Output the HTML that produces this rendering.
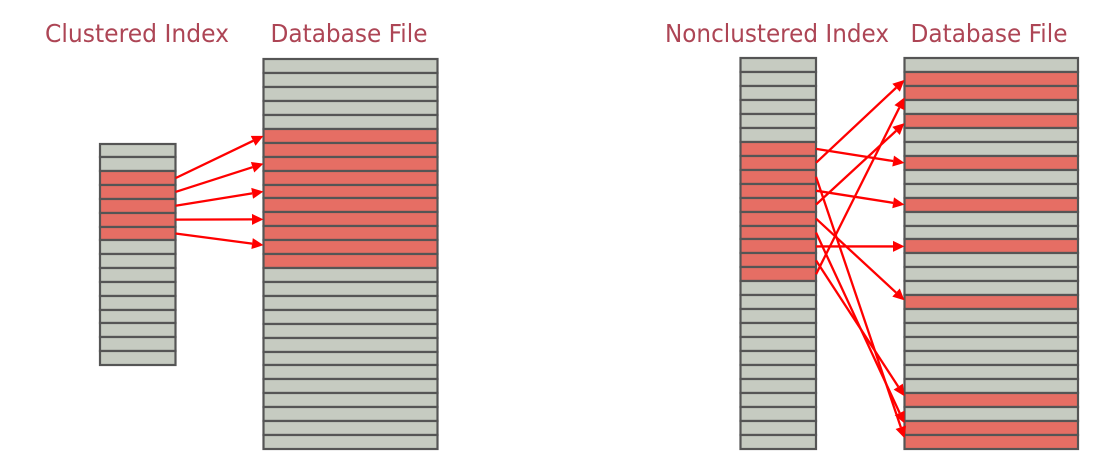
<!DOCTYPE html>
<html lang="en">
<head>
<meta charset="utf-8">
<title>Clustered vs Nonclustered Index</title>
<style>
html,body{margin:0;padding:0;background:#fff;width:1112px;height:475px;overflow:hidden}
svg{display:block}
text{font-family:"DejaVu Sans","Liberation Sans",sans-serif;font-size:25px;fill:#ad4555}
</style>
</head>
<body>
<svg id="diagram" width="1112" height="475" viewBox="0 0 1112 475" xmlns="http://www.w3.org/2000/svg">
<text x="45" y="42" textLength="184" lengthAdjust="spacingAndGlyphs">Clustered Index</text>
<text x="270.5" y="42" textLength="157" lengthAdjust="spacingAndGlyphs">Database File</text>
<text x="665" y="42" textLength="224" lengthAdjust="spacingAndGlyphs">Nonclustered Index</text>
<text x="910.5" y="42" textLength="157" lengthAdjust="spacingAndGlyphs">Database File</text>
<g id="tables"></g>
<g id="arrows"></g>
</svg>
<script>
// Row counts and highlighted rows for each table
const clusteredRowCount = 16;
const clusteredHighlighted = [2, 3, 4, 5, 6];
const fileARowCount = 28;
const fileAHighlighted = [5, 6, 7, 8, 9, 10, 11, 12, 13, 14];
const nonclusteredRowCount = 28;
const nonclusteredHighlighted = [6, 7, 8, 9, 10, 11, 12, 13, 14, 15];
const fileBRowCount = 28;
const fileBHighlighted = [1, 2, 4, 7, 10, 13, 17, 24, 26, 27];

// Pointer links: source row centre -> target position in fractional rows
const clusteredSources = [2, 3, 4, 5, 6];
const clusteredTargets = [5.5, 7.5, 9.5, 11.5, 13.35];
const nonclusteredSources = [6, 7, 8, 9, 10, 11, 12, 13, 14, 15];
const nonclusteredTargets = [7.5, 1.55, 27.26, 10.5, 4.65, 17.37, 26.2, 13.5, 24.25, 2.8];

const NS = 'http://www.w3.org/2000/svg';
const GREY = '#c6cbc1';
const RED = '#e66e64';
const LINE = '#555555';

function makeAxis(top, bottom, count) {
  const h = (bottom - top) / count;
  return function (pos) { return top + pos * h; };
}

const clusteredY = makeAxis(143.5, 365, clusteredRowCount);
const fileAY = makeAxis(59.3, 449, fileARowCount);
const nonclusteredY = makeAxis(58.3, 448.5, nonclusteredRowCount);
const fileBY = makeAxis(58.3, 448.5, fileBRowCount);

function drawTable(name, left, right, count, highlighted, yAxis) {
  const parent = document.getElementById('tables');
  const g = document.createElementNS(NS, 'g');
  
  
  parent.appendChild(g);
  for (let i = 0; i < count; i++) {
    const y0 = Math.round(yAxis(i));
    const y1 = Math.round(yAxis(i + 1));
    const r = document.createElementNS(NS, 'rect');
    r.setAttribute('x', left);
    r.setAttribute('y', y0);
    r.setAttribute('width', right - left);
    r.setAttribute('height', y1 - y0);
    r.setAttribute('fill', highlighted.includes(i) ? RED : GREY);
    r.setAttribute('stroke', LINE);
    r.setAttribute('stroke-width', '2.2');
    
    
    g.appendChild(r);
  }
}

function drawArrow(name, x0, y0, x1, y1) {
  const parent = document.getElementById('arrows');
  const g = document.createElementNS(NS, 'g');
  
  
  const dx = x1 - x0, dy = y1 - y0;
  const len = Math.sqrt(dx * dx + dy * dy);
  const ux = dx / len, uy = dy / len;
  const headLen = 11.5, halfW = 5.5;
  const bx = x1 - ux * headLen, by = y1 - uy * headLen;
  const l = document.createElementNS(NS, 'line');
  l.setAttribute('x1', x0);
  l.setAttribute('y1', y0);
  l.setAttribute('x2', bx);
  l.setAttribute('y2', by);
  l.setAttribute('stroke', '#ff0000');
  l.setAttribute('stroke-width', '2.3');
  
  
  g.appendChild(l);
  const p = document.createElementNS(NS, 'polygon');
  p.setAttribute('points',
    x1 + ',' + y1 + ' ' +
    (bx - uy * halfW) + ',' + (by + ux * halfW) + ' ' +
    (bx + uy * halfW) + ',' + (by - ux * halfW));
  p.setAttribute('fill', '#ff0000');
  
  
  g.appendChild(p);
  parent.appendChild(g);
}

drawTable('clustered-index-table', 100, 175.5, clusteredRowCount, clusteredHighlighted, clusteredY);
drawTable('database-file-table-left', 263.5, 437.5, fileARowCount, fileAHighlighted, fileAY);
drawTable('nonclustered-index-table', 740.5, 816, nonclusteredRowCount, nonclusteredHighlighted, nonclusteredY);
drawTable('database-file-table-right', 904.5, 1078, fileBRowCount, fileBHighlighted, fileBY);

clusteredSources.forEach(function (s, i) {
  drawArrow('clustered-pointer-arrow', 175.5, clusteredY(s + 0.5), 263.5, fileAY(clusteredTargets[i]));
});
nonclusteredSources.forEach(function (s, i) {
  drawArrow('nonclustered-pointer-arrow', 816, nonclusteredY(s + 0.5), 904.5, fileBY(nonclusteredTargets[i]));
});
</script>
</body>
</html>
